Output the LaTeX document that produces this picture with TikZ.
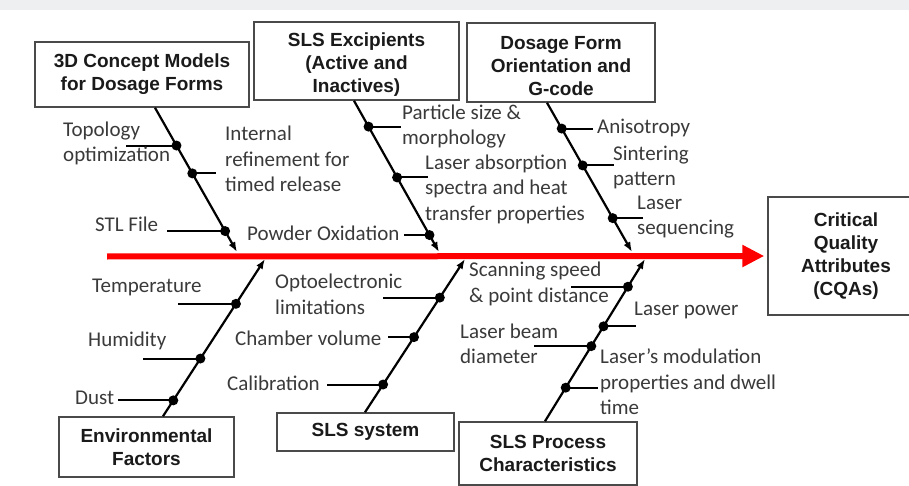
\documentclass[tikz,border=0pt]{standalone}
\usepackage{fontspec}
\setmainfont{Carlito}
\newfontfamily\headfont{Liberation Sans}
\usetikzlibrary{arrows.meta,calc}
\definecolor{band}{HTML}{EDEFF1}
\definecolor{boxline}{HTML}{4A4A4A}
\definecolor{boxtext}{HTML}{1A1A1A}
\definecolor{lbltext}{HTML}{3A3A3A}
\definecolor{spinered}{HTML}{FF0000}
\newcommand{\toppad}{\rule{0pt}{20pt}}
\tikzset{
  cat/.style={draw=boxline, line width=1.5pt, fill=white, text=boxtext,
    font=\headfont\bfseries\fontsize{19}{23}\selectfont, align=center, inner sep=0pt},
  bone/.style={line width=2.2pt, -{Latex[length=10pt,width=7.5pt]}},
  twig/.style={line width=2pt},
  dot/.style={circle, fill=black, inner sep=0pt, minimum size=10pt},
  lbl/.style={font=\fontsize{21}{25.5}\selectfont, text=lbltext, align=left,
    inner sep=0pt, anchor=west},
  spine/.style={draw=spinered, line width=6pt, -{Triangle[length=22pt,width=21pt]}}
}
\begin{document}
\begin{tikzpicture}[x=1pt,y=-1pt]
\useasboundingbox (0,0) rectangle (909,486);
\clip (0,0) rectangle (909,486);
\fill[white] (0,0) rectangle (909,486);
\fill[band] (0,0) rectangle (909,10);

% category boxes
\node[cat, minimum width=214pt, minimum height=65pt] (cm3d) at (142,74.5)
  {3D Concept Models\\for Dosage Forms};
\node[cat, minimum width=205pt, minimum height=78pt] (excip) at (356.5,61)
  {\toppad SLS Excipients\\(Active and\\Inactives)};
\node[cat, minimum width=188pt, minimum height=79pt] (orient) at (561,62.5)
  {\toppad Dosage Form\\Orientation and\\G-code};
\node[cat, minimum width=156pt, minimum height=118pt] (cqa) at (846,256)
  {Critical\\Quality\\Attributes\\(CQAs)};
\node[cat, minimum width=175pt, minimum height=60pt] (envir) at (146.5,447)
  {Environmental\\Factors};
\node[cat, minimum width=177pt, minimum height=38pt] (slssys) at (365.5,432)
  {SLS system};
\node[cat, minimum width=178pt, minimum height=63pt] (slsproc) at (548,453.5)
  {SLS Process\\Characteristics};

% main spine
\coordinate (sp0) at (107,256.5);
\draw[spine, shorten >=3pt] (sp0) -- (cqa.west);

% bone end points
\coordinate (b1s) at (cm3d.south -| 155,0);   \coordinate (b1e) at (237,252);
\coordinate (b2s) at (excip.south -| 354,0);  \coordinate (b2e) at (439,252);
\coordinate (b3s) at (orient.south -| 547,0); \coordinate (b3e) at (632,252);
\coordinate (b4s) at (envir.north -| 163,0);  \coordinate (b4e) at (265,259);
\coordinate (b5s) at (slssys.north -| 365,0); \coordinate (b5e) at (465,259);
\coordinate (b6s) at (slsproc.north -| 545,0);\coordinate (b6e) at (645,259);

\draw[bone] (b1s) -- (b1e);
\draw[bone] (b2s) -- (b2e);
\draw[bone] (b3s) -- (b3e);
\draw[bone] (b4s) -- (b4e);
\draw[bone] (b5s) -- (b5e);
\draw[bone] (b6s) -- (b6e);

% cause dots on the bones
\node[dot] (d11) at ($(b1s)!0.262!(b1e)$) {};
\node[dot] (d12) at ($(b1s)!0.455!(b1e)$) {};
\node[dot] (d13) at ($(b1s)!0.855!(b1e)$) {};
\node[dot] (d21) at ($(b2s)!0.171!(b2e)$) {};
\node[dot] (d22) at ($(b2s)!0.507!(b2e)$) {};
\node[dot] (d23) at ($(b2s)!0.888!(b2e)$) {};
\node[dot] (d31) at ($(b3s)!0.173!(b3e)$) {};
\node[dot] (d32) at ($(b3s)!0.420!(b3e)$) {};
\node[dot] (d33) at ($(b3s)!0.773!(b3e)$) {};
\node[dot] (d41) at ($(b4s)!0.715!(b4e)$) {};
\node[dot] (d42) at ($(b4s)!0.367!(b4e)$) {};
\node[dot] (d43) at ($(b4s)!0.101!(b4e)$) {};
\node[dot] (d51) at ($(b5s)!0.748!(b5e)$) {};
\node[dot] (d52) at ($(b5s)!0.490!(b5e)$) {};
\node[dot] (d53) at ($(b5s)!0.181!(b5e)$) {};
\node[dot] (d61) at ($(b6s)!0.829!(b6e)$) {};
\node[dot] (d62) at ($(b6s)!0.585!(b6e)$) {};
\node[dot] (d63) at ($(b6s)!0.463!(b6e)$) {};
\node[dot] (d64) at ($(b6s)!0.207!(b6e)$) {};

% short branches
\draw[twig] (d11.center) -- ++(-50,0) coordinate (t11);
\draw[twig] (d12.center) -- ++(24,0)  coordinate (t12);
\draw[twig] (d13.center) -- ++(-58,0) coordinate (t13);
\draw[twig] (d21.center) -- ++(32,0)  coordinate (t21);
\draw[twig] (d22.center) -- ++(31,0)  coordinate (t22);
\draw[twig] (d23.center) -- ++(-25,0) coordinate (t23);
\draw[twig] (d31.center) -- ++(31,0)  coordinate (t31);
\draw[twig] (d32.center) -- ++(31,0)  coordinate (t32);
\draw[twig] (d33.center) -- ++(30,0)  coordinate (t33);
\draw[twig] (d41.center) -- ++(-58,0) coordinate (t41);
\draw[twig] (d42.center) -- ++(-57,0) coordinate (t42);
\draw[twig] (d43.center) -- ++(-55,0) coordinate (t43);
\draw[twig] (d51.center) -- ++(-57,0) coordinate (t51);
\draw[twig] (d52.center) -- ++(-26,0) coordinate (t52);
\draw[twig] (d53.center) -- ++(-56,0) coordinate (t53);
\draw[twig] (d61.center) -- ++(-57,0) coordinate (t61);
\draw[twig] (d62.center) -- ++(32,0)  coordinate (t62);
\draw[twig] (d63.center) -- ++(-57,0) coordinate (t63);
\draw[twig] (d64.center) -- ++(32,0)  coordinate (t64);

% cause labels
\node[lbl] (l11) at (63,143.5) {Topology\\optimization};
\node[lbl] (l12) at (225,159) {Internal\\refinement for\\timed release};
\node[lbl] (l13) at (95,224) {STL File};
\node[lbl] (l21) at (402,126.5) {Particle size \&\\morphology};
\node[lbl] (l22) at (425,189) {Laser absorption\\spectra and heat\\transfer properties};
\node[lbl] (l23) at (247,233) {Powder Oxidation};
\node[lbl] (l31) at (597,128) {Anisotropy};
\node[lbl] (l32) at (613,167.5) {Sintering\\pattern};
\node[lbl] (l33) at (637,217) {Laser\\sequencing};
\node[lbl] (l41) at (92,287) {Temperature};
\node[lbl] (l42) at (88,341) {Humidity};
\node[lbl] (l43) at (75,398) {Dust};
\node[lbl] (l51) at (275,294.5) {Optoelectronic\\limitations};
\node[lbl] (l52) at (235,338) {Chamber volume};
\node[lbl] (l53) at (227,383) {Calibration};
\node[lbl] (l61) at (469,284) {Scanning speed\\\& point distance};
\node[lbl] (l62) at (634,310) {Laser power};
\node[lbl] (l63) at (460,344) {Laser beam\\diameter};
\node[lbl] (l64) at (600,382) {Laser’s modulation\\properties and dwell\\time};
\end{tikzpicture}
\end{document}
